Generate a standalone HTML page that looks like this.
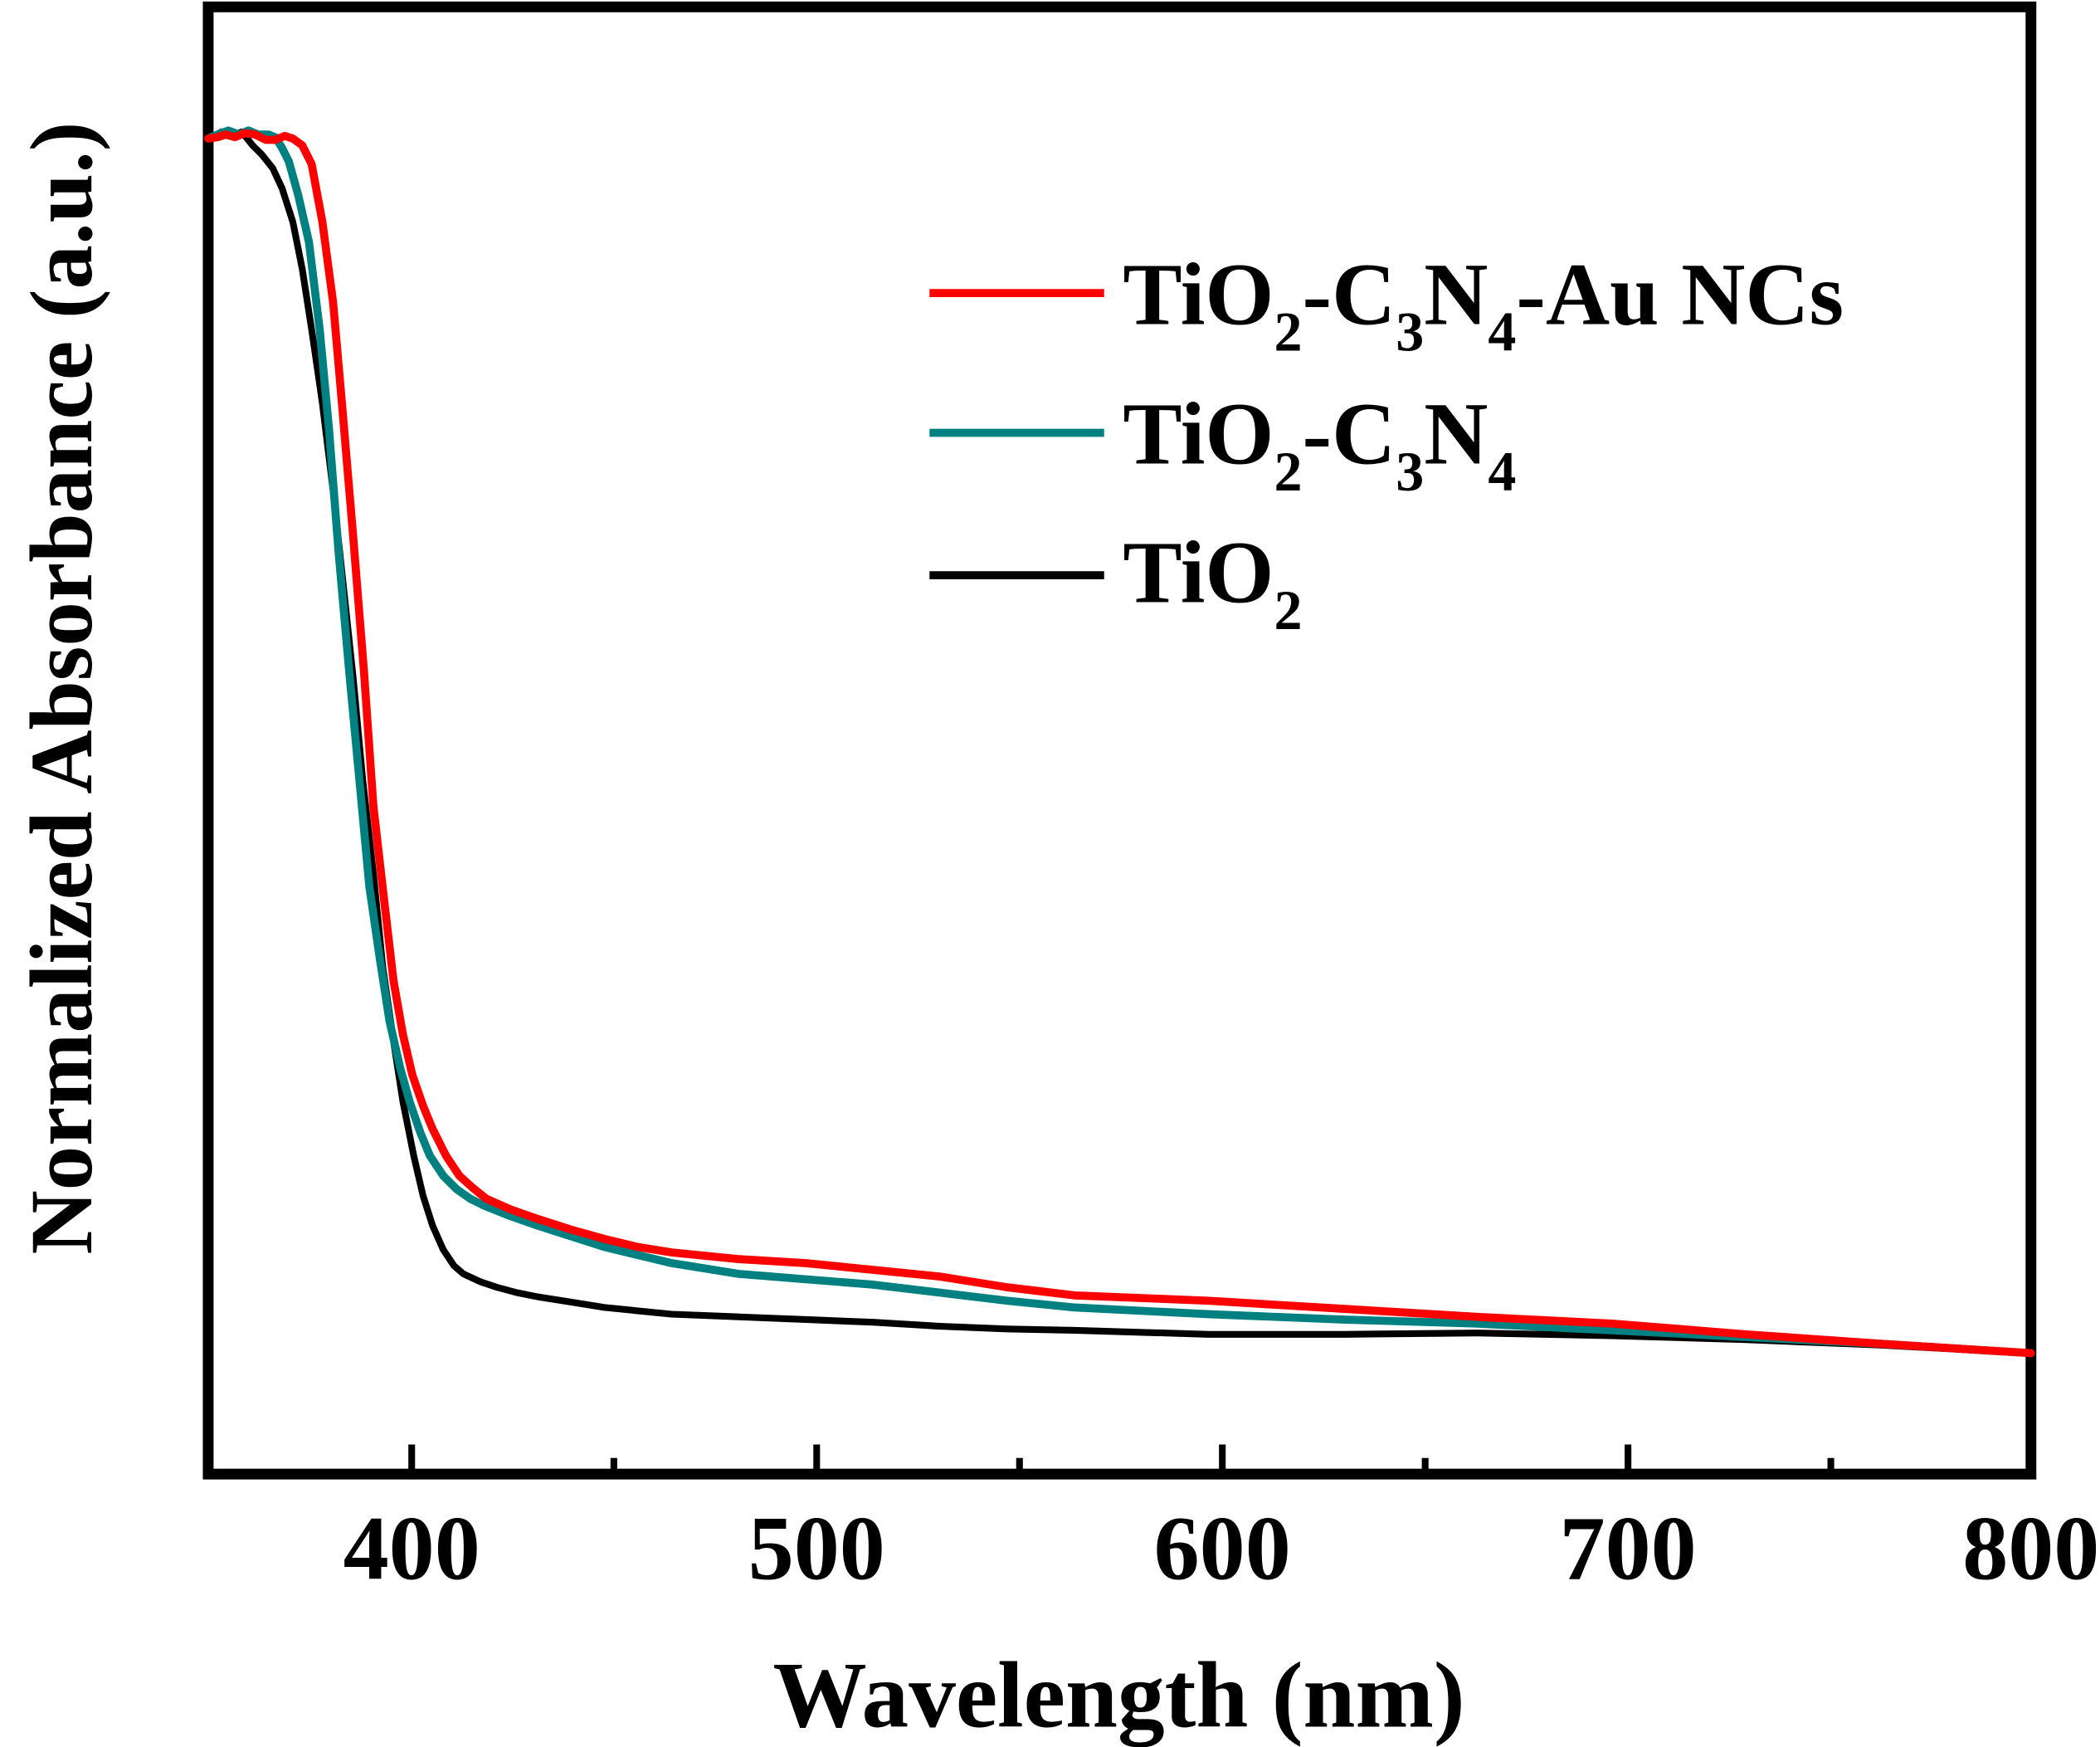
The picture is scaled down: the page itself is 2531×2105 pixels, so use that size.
<!DOCTYPE html>
<html><head><style>html,body{margin:0;padding:0;background:#fff}svg{display:block}</style></head>
<body>
<svg width="2531" height="2105" viewBox="0 0 1563.4 1300" xmlns="http://www.w3.org/2000/svg" font-family="'Liberation Serif', serif" font-weight="bold">
<rect x="155" y="5" width="1357" height="1092" fill="none" stroke="#000" stroke-width="8"/>
<g stroke="#000" stroke-width="5">
<line x1="306.5" y1="1097" x2="306.5" y2="1075"/>
<line x1="457" y1="1097" x2="457" y2="1085"/>
<line x1="608" y1="1097" x2="608" y2="1075"/>
<line x1="759" y1="1097" x2="759" y2="1085"/>
<line x1="910" y1="1097" x2="910" y2="1075"/>
<line x1="1061" y1="1097" x2="1061" y2="1085"/>
<line x1="1212" y1="1097" x2="1212" y2="1075"/>
<line x1="1363" y1="1097" x2="1363" y2="1085"/>
</g>
<g font-size="68" text-anchor="middle">
<text x="306.5" y="1175">400</text>
<text x="608" y="1175">500</text>
<text x="910" y="1175">600</text>
<text x="1212" y="1175">700</text>
<text x="1512" y="1175">800</text>
</g>
<text x="833" y="1285" font-size="70" text-anchor="middle">Wavelength (nm)</text>
<text transform="translate(68,512) rotate(-90)" font-size="66" text-anchor="middle">Normalized Absorbance (a.u.)</text>
<g fill="none" stroke-linejoin="round" stroke-linecap="round">
<polyline stroke="#000" stroke-width="5" points="155,103 165,98 175,100 180,98 188,108 195,115 203,125 210,140 218,165 225,200 232,245 240,300 248,365 255,430 263,505 270,580 278,650 285,720 293,775 300,820 308,860 315,890 322,912 330,930 338,942 345,948 358,954 370,958 385,962 400,965 425,969 450,973 500,978 550,980 600,982 650,984 700,987 750,989 800,990 900,993 1000,993 1100,992 1200,994 1300,997 1400,1001 1512,1007"/>
<polyline stroke="#008080" stroke-width="6" points="155,103 162,100 170,97 178,100 185,97 192,100 200,100 205,102 210,110 215,120 222,145 230,180 238,245 245,320 252,410 260,500 268,585 275,660 283,715 290,760 298,795 305,820 313,843 320,860 330,875 340,885 350,892 360,897 380,905 400,912 425,920 450,928 475,934 500,940 550,948 600,952 650,956 700,962 750,968 800,973 900,978 1000,982 1100,985 1200,990 1300,995 1400,1000 1512,1007"/>
<polyline stroke="#ff0000" stroke-width="6" points="155,103 162,102 168,100 175,102 182,99 190,100 198,104 205,104 212,101 218,103 225,108 232,122 240,165 248,225 255,305 263,400 271,500 278,600 286,670 293,730 300,770 307,800 315,823 322,840 332,860 342,875 352,884 362,892 380,900 400,907 425,915 450,922 475,928 500,932 550,937 600,940 650,945 700,950 750,958 800,964 850,966 900,968 950,971 1000,974 1050,977 1100,980 1200,985 1300,993 1400,1000 1512,1007"/>
</g>
<g stroke-width="6">
<line x1="692" y1="218" x2="822" y2="218" stroke="#ff0000"/>
<line x1="692" y1="322" x2="822" y2="322" stroke="#008080"/>
<line x1="692" y1="428" x2="822" y2="428" stroke="#000"/>
</g>
<g font-size="66">
<text x="836" y="241">TiO<tspan font-size="42" dy="20">2</tspan><tspan dy="-20">-C</tspan><tspan font-size="42" dy="20">3</tspan><tspan dy="-20">N</tspan><tspan font-size="42" dy="20">4</tspan><tspan dy="-20">-Au NCs</tspan></text>
<text x="836" y="345">TiO<tspan font-size="42" dy="20">2</tspan><tspan dy="-20">-C</tspan><tspan font-size="42" dy="20">3</tspan><tspan dy="-20">N</tspan><tspan font-size="42" dy="20">4</tspan></text>
<text x="836" y="448">TiO<tspan font-size="42" dy="20">2</tspan></text>
</g>
</svg>
</body></html>
